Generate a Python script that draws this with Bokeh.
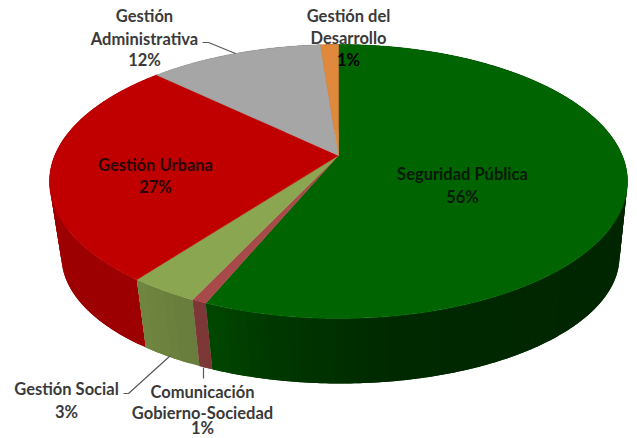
import numpy as np
from bokeh.plotting import figure
from bokeh.embed import file_html
from bokeh.resources import INLINE
from bokeh.core.properties import value

# Clockwise from 12 o'clock; drawn shares read from the rim, printed labels are rounded
categories = ["Seguridad Pública", "Comunicación Gobierno-Sociedad", "Gestión Social",
              "Gestión Urbana", "Gestión Administrativa", "Gestión del Desarrollo"]
shares = [56.3, 0.7, 3.3, 26.8, 11.7, 1.2]
top_colors = [(0, 100, 0), (168, 74, 74), (138, 166, 80), (192, 0, 0), (166, 166, 166), (224, 136, 60)]

label_lines = [
    (["Seguridad Pública", "56%"], 462, [173, 196], ["#0a1a0a", "#0a1a0a"]),
    (["Comunicación", "Gobierno-Sociedad", "1%"], 202, [391, 412, 427], ["#3a3a3a"] * 3),
    (["Gestión Social", "3%"], 66, [388, 411], ["#3a3a3a"] * 2),
    (["Gestión Urbana", "27%"], 155, [164, 186], ["#2a0505", "#2a0505"]),
    (["Gestión", "Administrativa", "12%"], 144, [15, 38, 59], ["#3a3a3a"] * 3),
    (["Gestión del", "Desarrollo", "1%"], 348, [15, 37, 59], ["#3a3a3a", "#3a3a3a", "#000000"]),
]
leaders = [
    ([202, 208, 235], [42, 42, 53]),
    ([123, 128, 170], [393, 393, 355]),
    ([203, 203], [367, 378]),
]

CX, CY, RX, RY = 338.0, 181.0, 289.0, 137.0
BX, BY, BRX, BRY = 340.0, 256.0, 279.0, 127.0
A = 0.19


def project(theta):
    x, y = np.sin(theta), np.cos(theta)
    den = 1 + A * y
    return x * np.sqrt(1 - A * A) / den, (y + A) / den


def shade(u):
    return np.interp(u, [-1, -0.7, -0.45, -0.2, 0.2, 1], [0.82, 0.82, 0.74, 0.56, 0.42, 0.38])


p = figure(width=637, height=438, x_range=(0, 637), y_range=(438, 0),
           output_backend="svg", toolbar_location=None, min_border=0)
p.axis.visible = False
p.grid.visible = False
p.outline_line_color = None
p.background_fill_color = "white"
p.border_fill_color = "white"

edges = np.cumsum([0] + shares) / sum(shares) * 2 * np.pi

# Side wall: overlapping strips so no seams show
wx, wy, wc = [], [], []
for i, rgb in enumerate(top_colors):
    n = max(int(shares[i] * 2), 4)
    t = np.linspace(edges[i], edges[i + 1], n + 1)
    for j in range(n):
        tt = np.linspace(t[j], t[min(j + 2, n)], 8)
        u, v = project(tt)
        wx.append(np.r_[CX + RX * u, (BX + BRX * u)[::-1]].tolist())
        wy.append(np.r_[CY - RY * v, (BY - BRY * v)[::-1]].tolist())
        um, _ = project((t[j] + t[j + 1]) / 2)
        f = shade(um)
        wc.append("#%02x%02x%02x" % tuple(int(c * f) for c in rgb))
p.patches(wx[::-1], wy[::-1], fill_color=wc[::-1], line_color=None)

for i, rgb in enumerate(top_colors):
    t = np.linspace(edges[i], edges[i + 1], 120)
    u, v = project(t)
    xs = np.r_[CX, CX + RX * u]
    ys = np.r_[CY - RY * A, CY - RY * v]
    p.patch(xs, ys, fill_color="#%02x%02x%02x" % rgb, line_color="#%02x%02x%02x" % rgb, line_width=0.5)

for xs, ys in leaders:
    p.line(xs, ys, line_color="#595959", line_width=1.2)

for lines, cx, ys, cols in label_lines:
    p.text([cx] * len(lines), ys, text=lines, text_align="center", text_baseline="middle",
           text_font=value("Lato"), text_font_size="16.5px", text_font_style="bold", text_color=cols)

open("out.html", "w").write(file_html(p, INLINE))
